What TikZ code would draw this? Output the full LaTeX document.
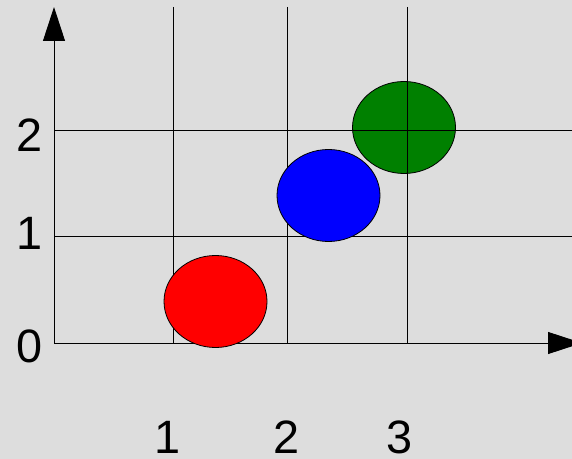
\documentclass[tikz,border=0pt]{standalone}
\usepackage{fontspec}
\setmainfont{Liberation Sans}
\usetikzlibrary{arrows.meta,shapes.geometric}
\definecolor{bg}{HTML}{DDDDDD}
\definecolor{dgreen}{HTML}{008000}
\tikzset{
  gridline/.style={draw=black,line width=0.9bp},
  axisline/.style={draw=black,line width=0.9bp,-{Triangle[length=34bp,width=22bp]}},
  blob/.style={ellipse,draw=black,line width=0.8bp,minimum width=103bp,minimum height=92bp,inner sep=0pt},
  lab/.style={font=\fontsize{47}{47}\selectfont,anchor=base,inner sep=0pt,text depth=0pt}
}
\begin{document}
\begin{tikzpicture}[x=1bp,y=-1bp]
\fill[bg] (0,0) rectangle (572,459);
\useasboundingbox (0,0) rectangle (572,459);
\clip (0,0) rectangle (572,459);
% green ellipse (grid lines are drawn over it)
\node[blob,fill=dgreen] (green) at (404,127.5) {};
% grid
\coordinate (o) at (54,343);
\coordinate (v1t) at (173,7);  \coordinate (v1b) at (173,343);
\coordinate (v2t) at (287,7);  \coordinate (v2b) at (287,343);
\coordinate (v3t) at (407,7);  \coordinate (v3b) at (407,343);
\coordinate (h1l) at (54,236); \coordinate (h1r) at (572,236);
\coordinate (h2l) at (54,130); \coordinate (h2r) at (572,130);
\draw[gridline] (v1t) -- (v1b);
\draw[gridline] (v2t) -- (v2b);
\draw[gridline] (v3t) -- (v3b);
\draw[gridline] (h1l) -- (h1r);
\draw[gridline] (h2l) -- (h2r);
% axes
\coordinate (ytip) at (54,7);
\coordinate (xtip) at (582,343);
\draw[axisline] (o) -- (ytip);
\draw[axisline] (o) -- (xtip);
% blue and red ellipses
\node[blob,fill=blue] (blueb) at (328.5,195.5) {};
\node[blob,fill=red] (redb) at (215.5,301.5) {};
% labels
\node[lab] (y0) at (29.5,362) {0};
\node[lab] (y1) at (29.5,250) {1};
\node[lab] (y2) at (29.5,152) {2};
\node[lab] (x1) at (168,453) {1};
\node[lab] (x2) at (286.5,453) {2};
\node[lab] (x3) at (400,453) {3};
\end{tikzpicture}
\end{document}
